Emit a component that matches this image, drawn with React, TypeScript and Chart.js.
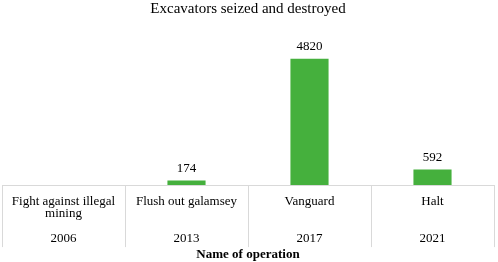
import React, { useEffect, useRef } from "react";
import { Chart, registerables } from "chart.js";

Chart.register(...registerables);

const chartTitle = "Excavators seized and destroyed";
const axisTitle = "Name of operation";
const operationNames: string[][] = [
  ["Fight against illegal", "mining"],
  ["Flush out galamsey"],
  ["Vanguard"],
  ["Halt"],
];
const years = ["2006", "2013", "2017", "2021"];
const excavators: (number | null)[] = [null, 174, 4820, 592];

const FONT = "'Liberation Serif', 'Times New Roman', serif";

const valueLabels = {
  id: "valueLabels",
  afterDatasetsDraw(chart: any) {
    const ctx = chart.ctx;
    const meta = chart.getDatasetMeta(0);
    ctx.save();
    ctx.font = `13px ${FONT}`;
    ctx.fillStyle = "#000";
    ctx.textAlign = "center";
    ctx.textBaseline = "middle";
    meta.data.forEach((bar: any, i: number) => {
      const v = excavators[i];
      if (v === null || v === undefined) return;
      ctx.fillText(String(v), bar.x, bar.y - 12);
    });
    ctx.restore();
  },
};

const tableLines = {
  id: "tableLines",
  afterDraw(chart: any) {
    const s = chart.scales.x;
    const ctx = chart.ctx;
    const n = s.ticks.length;
    const w = (s.right - s.left) / n;
    ctx.save();
    ctx.strokeStyle = "#d9d9d9";
    ctx.lineWidth = 1;
    ctx.beginPath();
    for (let i = 0; i <= n; i++) {
      const x = Math.round(s.left + i * w) + 0.5;
      ctx.moveTo(x, s.top);
      ctx.lineTo(x, s.top + 62);
    }
    ctx.stroke();
    ctx.restore();
  },
};

export default function App() {
  const ref = useRef<HTMLCanvasElement>(null);
  useEffect(() => {
    if (!ref.current) return;
    const labels = operationNames.map((lines, i) => {
      const l = [...lines];
      while (l.length < 3) l.push("");
      l.push(years[i]);
      return l;
    });
    const chart = new Chart(ref.current, {
      type: "bar",
      data: {
        labels,
        datasets: [
          {
            data: excavators as any,
            backgroundColor: "#45B03D",
            borderWidth: 0,
            categoryPercentage: 1,
            barPercentage: 0.31,
          },
        ],
      },
      options: {
        animation: false,
        responsive: true,
        maintainAspectRatio: false,
        layout: { padding: { left: 2, right: 4, top: 0, bottom: 0 } },
        plugins: {
          legend: { display: false },
          tooltip: { enabled: false },
          title: {
            display: true,
            text: chartTitle,
            color: "#000",
            font: { family: FONT, size: 15, weight: "normal" as any, lineHeight: 1.2 },
            padding: { top: 0, bottom: 23 },
          },
        },
        scales: {
          x: {
            offset: true,
            grid: {
              display: true,
              drawOnChartArea: false,
              drawTicks: true,
              tickLength: 8,
              offset: true,
              color: "#d9d9d9",
              tickColor: "#d9d9d9",
            },
            border: { display: true, color: "#d9d9d9" },
            ticks: {
              autoSkip: false,
              maxRotation: 0,
              minRotation: 0,
              padding: 2,
              color: "#000",
              font: { family: FONT, size: 13, lineHeight: "12.33px" as any },
            },
            title: {
              display: true,
              text: axisTitle,
              color: "#000",
              font: { family: FONT, size: 13, weight: "bold" as any, lineHeight: 1.2 },
              padding: { top: 0, bottom: 0 },
            },
          },
          y: {
            display: false,
            min: 0,
            max: 5500,
          },
        },
      },
      plugins: [valueLabels, tableLines],
    });
    return () => chart.destroy();
  }, []);
  return (
    <div style={{ position: "absolute", left: 0, top: 0, width: 498, height: 262 }}>
      <canvas ref={ref} />
    </div>
  );
}
